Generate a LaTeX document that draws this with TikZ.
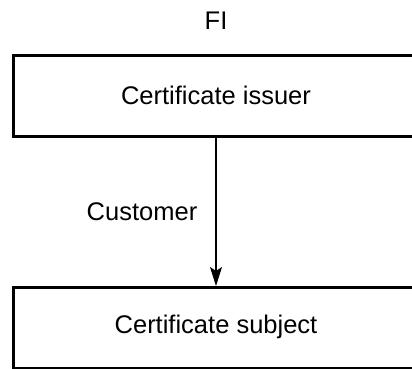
\documentclass[tikz,border=0pt]{standalone}
\usepackage{fontspec}
\setmainfont{Liberation Sans}
\usetikzlibrary{arrows.meta}
\begin{document}
\begin{tikzpicture}[x=1pt,y=-1pt,
  lbl/.style={font=\fontsize{25.5}{30}\selectfont, inner sep=0pt},
  boxed/.style={draw, line width=2.6pt, minimum width=420pt, minimum height=81pt, anchor=north west, inner sep=0pt},
  conn/.style={line width=1.1pt, -{Stealth[length=19pt,width=12pt,inset=4pt]}}]
\useasboundingbox (0,0) rectangle (412,369);
\node[lbl] (fi) at (216,21) {FI};
\node[boxed] (issuer) at (12,54) {};
\node[lbl] (issuertext) at (216,95) {Certificate issuer};
\node[boxed] (subject) at (12,286) {};
\node[lbl] (subjecttext) at (216,327) {Certificate subject};
\coordinate (a1) at (216,135);
\coordinate (a2) at (216,286);
\draw[conn] (a1) -- (a2);
\node[lbl] (cust) at (142,212) {Customer};
\end{tikzpicture}
\end{document}
